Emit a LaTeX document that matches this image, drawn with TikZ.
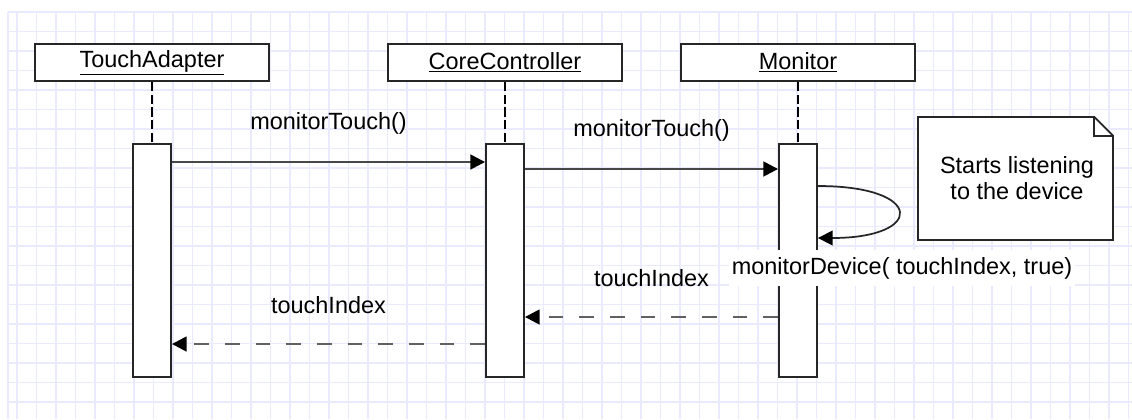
\documentclass[tikz,border=0pt]{standalone}
\usepackage{fontspec}
\setmainfont{Liberation Sans}
\usepackage{tikz}
\usetikzlibrary{arrows.meta}
\definecolor{gridblue}{RGB}{234,234,255}
\newcommand{\SeqFont}{\fontsize{17.6}{19.5}\selectfont}

\begin{document}
\begin{tikzpicture}[x=0.75pt, y=-0.75pt, font=\SeqFont,
    gridline/.style={draw=gridblue, line width=1.1pt},
    objbox/.style={draw=black!85, line width=1.4pt, fill=white, minimum width=176pt, minimum height=28pt, inner sep=0pt},
    actbar/.style={draw=black!85, line width=1.4pt, fill=white, minimum width=28.5pt, minimum height=174.75pt, inner sep=0pt},
    lifeline/.style={draw=black, line width=1.2pt, dash pattern=on 7pt off 2.5pt},
    msg/.style={draw=black!72, line width=1.9pt, -{Triangle[length=11pt,width=11pt,color=black]}},
    reply/.style={msg, draw=black!62, dash pattern=on 11pt off 12pt},
    msglabel/.style={midway, yshift=29pt}]
    \useasboundingbox (0,0) rectangle (1132,419);
    % Draw background grid
    \draw [gridline] (8,12) -- (8,419);
    \foreach \gx in {0,...,57} \draw [gridline] (17+19.5*\gx,12) -- (17+19.5*\gx,419);
    \foreach \gy in {0,...,20} \draw [gridline] (8,12+19.5*\gy) -- (1132,12+19.5*\gy);
    % Draw objects, lifelines, activation bars
    \node [objbox] (ta) at (152,62.5) {\underline{TouchAdapter}};
    \node [objbox] (cc) at (505,62.5) {\underline{CoreController}};
    \node [objbox] (mon) at (798,62.5) {\underline{Monitor}};
    \node [actbar] (tabar) at (152,260.5) {};
    \node [actbar] (ccbar) at (505,260.5) {};
    \node [actbar] (monbar) at (798,260.5) {};
    \draw [lifeline] (ta) -- (tabar);
    \draw [lifeline] (cc) -- (ccbar);
    \draw [lifeline] (mon) -- (monbar);
    % Draw messages
    \coordinate (call1) at (0,162);
    \coordinate (call2) at (0,169);
    \coordinate (selfout) at (0,186);
    \coordinate (selfin) at (0,238);
    \coordinate (ret1) at (0,317);
    \coordinate (ret2) at (0,344);
    \draw [msg] (tabar.east |- call1) -- (ccbar.west |- call1) node [msglabel] (call1lbl) {monitorTouch()};
    \draw [msg] (ccbar.east |- call2) -- (monbar.west |- call2) node [msglabel] (call2lbl) {monitorTouch()};
    \draw [msg, draw=black!85, line width=1.3pt] (monbar.east |- selfout) .. controls +(107,0) and +(107,0) .. (monbar.east |- selfin);
    \node [fill=white, inner xsep=2pt, inner ysep=5pt] (selflbl) at (902,268) {monitorDevice( touchIndex, true)};
    \draw [reply] (monbar.west |- ret1) -- (ccbar.east |- ret1) node [msglabel] (ret1lbl) {touchIndex};
    \draw [reply] (ccbar.west |- ret2) -- (tabar.east |- ret2) node [msglabel] (ret2lbl) {touchIndex};
    % Draw note
    \coordinate (notenw) at (918,117);
    \coordinate (notese) at (1113,240);
    \draw [draw=black!85, line width=1.4pt, fill=white] (notenw) -- ([xshift=-14pt]notese |- notenw) -- ([yshift=-14pt]notese |- notenw) -- (notese) -- (notenw |- notese) -- cycle; % note body
    \draw [draw=black!85, line width=1.4pt] ([xshift=-14pt]notese |- notenw) -- ++(0,-14pt) -- ([yshift=-14pt]notese |- notenw); % folded corner
    \node [align=center] (note) at (1017,178) {Starts listening\\to the device};
\end{tikzpicture}
\end{document}
